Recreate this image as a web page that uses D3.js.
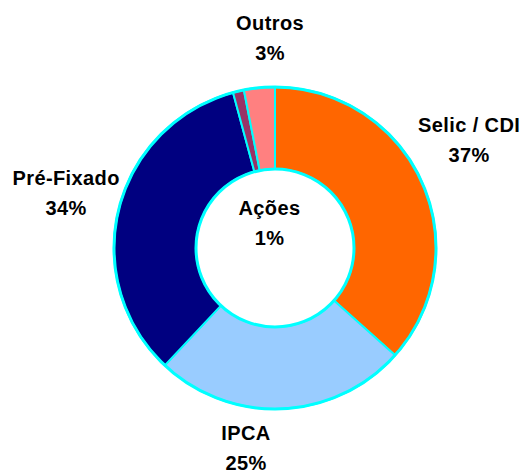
<!DOCTYPE html>
<html>
<head>
<meta charset="utf-8">
<script src="https://cdn.jsdelivr.net/npm/d3@7"></script>
<style>
  body { margin: 0; background: #fff; }
  text { font-family: "Liberation Sans", Arial, sans-serif; font-weight: bold; font-size: 20px; fill: #000; }
</style>
</head>
<body>
<div id="chart-area"></div>
<script>
// data
const categories = ["Selic / CDI", "IPCA", "Pré-Fixado", "Ações", "Outros"]
const values = [36.6, 25.4, 33.8, 1.1, 3.1]
const colors = ["#FF6600", "#99CCFF", "#000080", "#993366", "#FF8080"]

const WIDTH = 523
const HEIGHT = 473
const CX = 275
const CY = 248
const OUTER = 161
const INNER = 79
const LABEL_R = 205

// small nudges so labels sit where the original put them
const labelNudge = {
    "Selic / CDI": [7, -24],
    "IPCA": [-38, -5],
    "Pré-Fixado": [-10, -5],
    "Outros": [15, -5.5]
}

const svg = d3.select("#chart-area").append("svg")
    .attr("width", WIDTH)
    .attr("height", HEIGHT)

const g = svg.append("g")
    .attr("transform", `translate(${CX}, ${CY})`)

const data = categories.map((c, i) => ({ name: c, value: values[i], color: colors[i] }))
const total = d3.sum(values)
const fmt = d3.format(".0%")

const pie = d3.pie()
    .sort(null)
    .value(d => d.value)

const arc = d3.arc()
    .innerRadius(INNER)
    .outerRadius(OUTER)

const labelArc = d3.arc()
    .innerRadius(LABEL_R)
    .outerRadius(LABEL_R)

const arcs = pie(data)

// slices
g.selectAll("path.slice")
    .data(arcs)
    .enter().append("path")
    .attr("class", "slice")
    .attr("d", arc)
    .attr("fill", d => d.data.color)
    .attr("stroke", "#00FFFF")
    .attr("stroke-width", 2)
    .attr("stroke-linejoin", "round")

// outer and inner rims
g.append("circle")
    .attr("r", OUTER)
    .attr("fill", "none")
    .attr("stroke", "#00FFFF")
    .attr("stroke-width", 3)
g.append("circle")
    .attr("r", INNER)
    .attr("fill", "#fff")
    .attr("stroke", "#00FFFF")
    .attr("stroke-width", 3)

// labels
const labels = g.selectAll("text.label")
    .data(arcs)
    .enter().append("text")
    .attr("class", "label")
    .attr("text-anchor", "middle")
    .attr("letter-spacing", "0.4px")
    .attr("transform", d => {
        let p
        if (d.data.name === "Ações") {
            p = [-5.5, -25.5]
        } else {
            const c = labelArc.centroid(d)
            const n = labelNudge[d.data.name] || [0, 0]
            p = [c[0] + n[0], c[1] + n[1]]
        }
        return `translate(${p[0]}, ${p[1]})`
    })

labels.append("tspan")
    .attr("x", 0)
    .attr("y", -8)
    .text(d => d.data.name)
labels.append("tspan")
    .attr("x", 0)
    .attr("y", 22)
    .text(d => fmt(d.data.value / total))
</script>
</body>
</html>
